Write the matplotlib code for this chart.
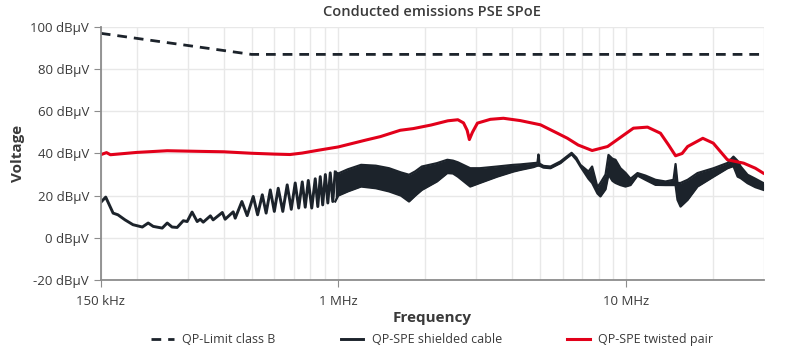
import numpy as np
import matplotlib.pyplot as plt
from matplotlib.ticker import FixedLocator, NullFormatter

plt.rcParams['font.family'] = ['Open Sans', 'DejaVu Sans']

# QP limit class B (MHz, dBuV)
limit_f = [0.15, 0.5, 30.0]
limit_db = [97, 87, 87]

# QP-SPE twisted pair (MHz, dBuV)
twisted_f = [0.149, 0.157, 0.162, 0.20, 0.255, 0.33, 0.40, 0.50, 0.60, 0.68, 0.75,
             0.85, 1.0, 1.25, 1.4, 1.64, 1.82, 2.1, 2.4, 2.6, 2.72, 2.80, 2.85,
             2.92, 3.04, 3.37, 3.74, 4.28, 5.03, 5.76, 6.24, 6.8, 7.6, 8.6, 9.5,
             10.57, 11.83, 13.12, 14.0, 14.8, 15.6, 16.3, 18.4, 20.0, 22.4, 25.5,
             28.0, 29.8]
twisted_db = [39.3, 40.4, 39.4, 40.5, 41.3, 41.0, 40.8, 40.1, 39.7, 39.5, 40.2,
              41.5, 43.1, 46.4, 48.0, 51.0, 51.8, 53.5, 55.5, 56.0, 54.5, 51.0, 46.6,
              50.0, 54.4, 56.2, 56.7, 55.6, 53.6, 49.6, 47.2, 44.0, 41.4, 43.3, 47.5,
              52.0, 52.5, 49.6, 44.0, 38.9, 40.0, 43.3, 47.2, 44.9, 37.0, 35.4,
              33.0, 30.7]

# QP-SPE shielded cable, resolved trace below 1 MHz (MHz, dBuV)
shield_f = [0.149, 0.156, 0.1655, 0.172, 0.182, 0.194, 0.209, 0.219, 0.228, 0.245,
            0.255, 0.265, 0.276, 0.290, 0.299, 0.311, 0.324, 0.332, 0.340, 0.360,
            0.368, 0.396, 0.405, 0.432, 0.439, 0.463, 0.483, 0.507, 0.525, 0.545,
            0.562, 0.581, 0.600, 0.619, 0.642, 0.665, 0.687, 0.709, 0.729, 0.750,
            0.768, 0.787, 0.809, 0.832, 0.849, 0.866, 0.883, 0.902, 0.920, 0.938,
            0.957, 0.976]
shield_db = [16.4, 19.3, 11.7, 10.9, 8.5, 6.2, 5.1, 7.0, 5.4, 4.6,
             7.0, 5.1, 4.9, 8.1, 7.7, 12.2, 7.7, 8.8, 7.4, 10.4,
             8.5, 12.0, 8.8, 12.3, 9.3, 17.2, 10.5, 19.6, 10.9, 20.4,
             11.7, 22.7, 12.5, 23.5, 12.5, 25.1, 13.5, 26.0, 14.1, 26.5,
             14.5, 27.2, 14.1, 28.0, 14.8, 29.0, 15.6, 30.0, 16.5, 30.8,
             17.2, 31.2]

# QP-SPE shielded cable, dense part above 1 MHz: upper / lower envelope
band_f = [0.976, 1.0, 1.08, 1.2, 1.35, 1.5, 1.65, 1.76, 1.85, 1.95, 2.2, 2.39,
          2.5, 2.6, 2.87, 3.1, 3.56, 4.05, 4.28, 4.75, 4.91, 4.95, 4.99, 5.15,
          5.45, 5.9, 6.2, 6.45, 6.7, 6.92, 7.38, 7.6, 7.93, 8.12, 8.46, 8.66,
          8.94, 9.16, 9.53, 9.92, 10.33, 10.92, 11.64, 12.61, 13.66, 14.56, 14.8,
          15.03, 15.4, 16.3, 17.64, 20.05, 22.42, 23.5, 24.3, 24.9, 26.3, 28.0, 29.9]
band_hi = [31.2, 30.5, 32.5, 34.6, 34.2, 33.0, 31.0, 29.9, 31.5, 33.8, 35.4, 37.0,
           36.6, 35.8, 33.0, 33.0, 33.8, 34.6, 34.8, 35.4, 35.6, 39.5, 35.2, 34.1,
           33.8, 36.2, 38.5, 40.3, 38.0, 34.6, 31.4, 33.8, 24.0, 26.0, 30.0, 39.3,
           37.5, 37.0, 33.0, 30.8, 28.0, 30.7, 29.5, 27.5, 26.7, 27.5, 35.0,
           26.0, 26.0, 27.5, 30.7, 33.0, 35.5, 38.5, 36.5, 33.8, 29.9, 28.0, 25.9]
band_lo = [17.2, 20.0, 22.0, 24.3, 23.5, 22.0, 20.0, 17.2, 20.0, 22.7, 26.7, 30.7,
           30.5, 29.0, 24.3, 26.0, 29.0, 31.4, 32.2, 33.5, 34.2, 34.2, 34.2, 33.3,
           33.0, 35.4, 37.8, 39.6, 37.0, 33.8, 28.0, 26.0, 21.0, 19.6, 23.0, 30.0,
           27.0, 26.0, 25.0, 24.3, 25.0, 29.5, 27.5, 25.1, 25.0, 25.0, 25.0,
           18.0, 14.8, 18.0, 24.3, 29.0, 33.0, 34.0, 29.0, 28.3, 25.9, 24.0, 22.7]

x_ticks = [0.15, 1.0, 10.0]
x_labels = ['150 kHz', '1 MHz', '10 MHz']
y_ticks = [-20, 0, 20, 40, 60, 80, 100]

red = '#e2001a'
dark = '#1c232b'
grid_c = '#e8e8e8'
text_c = '#3a3a3a'

fig = plt.figure(figsize=(8, 3.53), dpi=100)
ax = fig.add_axes([0.126, 0.207, 0.829, 0.7165])

ax.set_xscale('log')
ax.set_xlim(0.15, 30)
ax.set_ylim(-20, 100)

minor = [m * d for d in [0.1, 1, 10] for m in range(2, 10) if 0.15 < m * d <= 30]
ax.xaxis.set_minor_locator(FixedLocator(minor))
ax.xaxis.set_minor_formatter(NullFormatter())
ax.set_xticks(x_ticks)
ax.set_xticklabels(x_labels)
ax.set_yticks(y_ticks)
ax.set_yticklabels([f'{v} dBµV' for v in y_ticks])

ax.grid(True, which='major', axis='y', color=grid_c, lw=1)
ax.grid(True, which='both', axis='x', color=grid_c, lw=1)
ax.set_axisbelow(True)

ax.plot(limit_f, limit_db, color=dark, lw=2, dashes=(3.5, 2.5), label='QP-Limit class B')
ax.plot(shield_f, shield_db, color=dark, lw=2.1, label='QP-SPE shielded cable')
ax.fill_between(band_f, band_lo, band_hi, color=dark, lw=0)
ax.plot(band_f, band_hi, color=dark, lw=1.6)
ax.plot(band_f, band_lo, color=dark, lw=1.6)
ax.plot(twisted_f, twisted_db, color=red, lw=2.2, label='QP-SPE twisted pair')

for s in ['top', 'right']:
    ax.spines[s].set_visible(False)
for s in ['left', 'bottom']:
    ax.spines[s].set_color('#8c8c8c')
    ax.spines[s].set_linewidth(1.3)
ax.tick_params(axis='both', which='major', colors='#8c8c8c', labelcolor=text_c,
               labelsize=9.5, length=5)
ax.tick_params(axis='x', which='minor', length=0)
ax.tick_params(axis='x', pad=6)

ax.set_title('Conducted emissions PSE SPoE', fontsize=10.5, fontweight='semibold',
             color=text_c, pad=8)
ax.set_xlabel('Frequency', fontsize=11, fontweight='bold', color=text_c, labelpad=2)
ax.set_ylabel('Voltage', fontsize=11, fontweight='bold', color=text_c, labelpad=4)

ax.legend(loc='center', bbox_to_anchor=(0.5, -0.237), ncol=3, frameon=False,
          fontsize=9, handlelength=1.8, handletextpad=0.7, columnspacing=5.2,
          labelcolor=text_c, borderaxespad=0)

fig.savefig('out.png', dpi=100)
